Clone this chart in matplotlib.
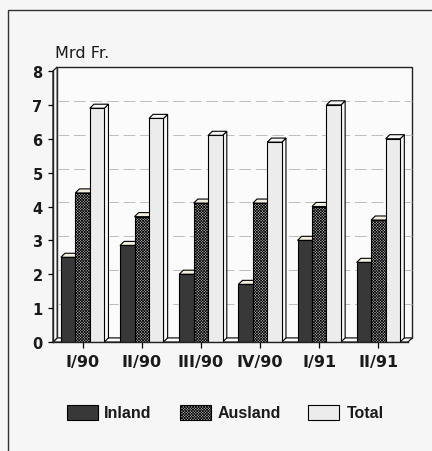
import matplotlib.pyplot as plt
from matplotlib.patches import Polygon, Rectangle

# Quarterly figures, billions of francs
quarters = ['I/90', 'II/90', 'III/90', 'IV/90', 'I/91', 'II/91']
inland = [2.5, 2.85, 2.0, 1.7, 3.0, 2.35]
ausland = [4.4, 3.7, 4.1, 4.1, 4.0, 3.6]
total = [6.9, 6.6, 6.1, 5.9, 7.0, 6.0]
series_names = ['Inland', 'Ausland', 'Total']

W, H = 432, 452
BG = '#f6f6f6'
plt.rcParams['hatch.linewidth'] = 0.5

fig = plt.figure(figsize=(W / 100, H / 100), dpi=100, facecolor=BG)


def fx(px):
    return px / W


def fy(py):
    return 1 - py / H


ax = fig.add_axes([fx(53), fy(343), fx(408) - fx(53), fy(72) - fy(343)])
ax.set_facecolor('none')
ax.set_xlim(-0.5, len(quarters) - 0.5)
ax.set_ylim(0, 8)

# 3-D depth of the box and bars, in data units
dx, dy = 0.07, 0.12
xmin, xmax = ax.get_xlim()
ytop = 8

# back wall, floor and left wall
ax.add_patch(Rectangle((xmin + dx, dy), xmax - xmin, ytop, facecolor='#fbfbfb',
                       edgecolor='#222222', lw=1.0, zorder=0, clip_on=False))
ax.add_patch(Polygon([(xmin, 0), (xmax, 0), (xmax + dx, dy), (xmin + dx, dy)],
                     closed=True, facecolor='#fbfbfb', edgecolor='#222222',
                     lw=0.9, zorder=0.5, clip_on=False))
ax.add_patch(Polygon([(xmin, 0), (xmin, ytop), (xmin + dx, ytop + dy), (xmin + dx, dy)],
                     closed=True, facecolor='#fbfbfb', edgecolor='#222222',
                     lw=0.9, zorder=0.5, clip_on=False))
for g in range(1, 8):
    ax.plot([xmin + dx, xmax + dx], [g + dy, g + dy], color='#bdbdbd', lw=0.7,
            ls=(0, (12, 5)), zorder=0.3, clip_on=False)

bw = 0.245
styles = [
    dict(face='#383838', hatch=None, top='#f3eee0', side='#1e1e1e'),
    dict(face='#b8b8b8', hatch='xxxxxxxxxxxx', top='#f3eee0', side='#8a8a8a'),
    dict(face='#ececec', hatch=None, top='#f7f7f7', side='#f7f7f7'),
]
values = [inland, ausland, total]

z = 2
for k in range(len(quarters)):
    for s, (vals, st) in enumerate(zip(values, styles)):
        xc = k + (s - 1) * bw
        h = vals[k]
        x0, x1 = xc - bw / 2, xc + bw / 2
        ax.add_patch(Polygon([(x1, 0), (x1 + dx, dy), (x1 + dx, h + dy), (x1, h)],
                             closed=True, facecolor=st['side'], edgecolor='black',
                             lw=0.8, zorder=z, clip_on=False))
        ax.add_patch(Polygon([(x0, h), (x1, h), (x1 + dx, h + dy), (x0 + dx, h + dy)],
                             closed=True, facecolor=st['top'], edgecolor='black',
                             lw=0.8, zorder=z, clip_on=False))
        ax.bar(xc, h, width=bw, color=st['face'], edgecolor='black', lw=0.8,
               hatch=st['hatch'], zorder=z + 0.5)
        z += 1

for side in ['top', 'right']:
    ax.spines[side].set_visible(False)
for side in ['left', 'bottom']:
    ax.spines[side].set_linewidth(1.0)
    ax.spines[side].set_color('#222222')
    ax.spines[side].set_zorder(z + 1)

ax.set_yticks(range(0, 9))
ax.set_xticks(range(len(quarters)))
ax.set_xticklabels(quarters)
ax.tick_params(axis='y', length=3.5, width=0.9, pad=4, labelsize=10.5)
ax.tick_params(axis='x', length=4, width=0.9, pad=5, labelsize=11.5)
for lab in ax.get_xticklabels() + ax.get_yticklabels():
    lab.set_fontfamily('DejaVu Sans')
    lab.set_fontweight('bold')
    lab.set_color('#1a1a1a')

fig.text(fx(55), fy(54), 'Mrd Fr.', fontsize=11.5, family='DejaVu Sans',
         color='#1a1a1a', ha='left', va='center')

# legend
leg_x = [(67, 104), (180, 218), (308, 347)]
for (px, tx), st, name in zip(leg_x, styles, series_names):
    fig.add_artist(Rectangle((fx(px), fy(421)), fx(31), 15 / H, transform=fig.transFigure,
                             facecolor=st['face'], edgecolor='black', lw=0.8,
                             hatch=st['hatch']))
    fig.text(fx(tx), fy(414), name, fontsize=11.5, family='Liberation Sans',
             fontweight='bold', color='#1a1a1a', ha='left', va='center')

# frame around the whole chart
fig.add_artist(Rectangle((fx(8), -0.05), 1.1, fy(11) + 0.05, transform=fig.transFigure,
                         facecolor='none', edgecolor='#333333', lw=1.0))

fig.savefig('out.png', dpi=100, facecolor=BG)
